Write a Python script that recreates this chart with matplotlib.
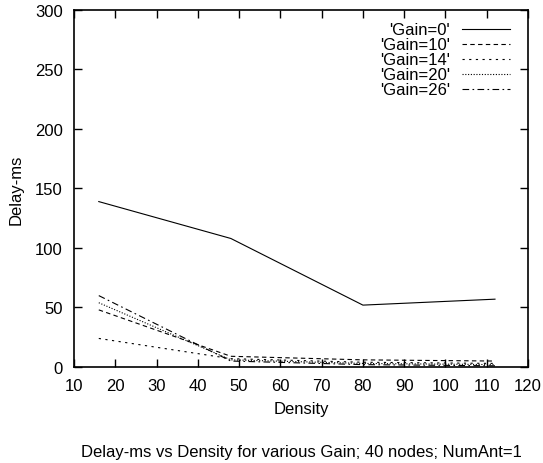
import matplotlib
matplotlib.use('Agg')
import matplotlib.pyplot as plt

plt.rcParams['font.family'] = ['Liberation Sans', 'DejaVu Sans']

density = [16, 48, 80, 112]
labels = ["'Gain=0'", "'Gain=10'", "'Gain=14'", "'Gain=20'", "'Gain=26'"]
gain_0 = [139, 108, 52, 57]
gain_10 = [48, 9, 6, 5]
gain_14 = [24, 7, 4, 3]
gain_20 = [54, 6, 3, 2]
gain_26 = [60, 5, 2, 1]
x_ticks = [10, 20, 30, 40, 50, 60, 70, 80, 90, 100, 110, 120]
y_ticks = [0, 50, 100, 150, 200, 250, 300]

series = [gain_0, gain_10, gain_14, gain_20, gain_26]
styles = ['-', (0, (4, 3)), (0, (2, 4)), (0, (1, 1.5)), (0, (6, 3, 1.5, 3))]

fig = plt.figure(figsize=(5.43, 4.64), dpi=100)
ax = fig.add_axes([0.1363, 0.2069, 0.8361, 0.7694])

for vals, ls, lab in zip(series, styles, labels):
    ax.plot(density, vals, color='black', linewidth=0.8, linestyle=ls, label=lab)

ax.set_xlim(10, 120)
ax.set_ylim(0, 300)
ax.set_xticks(x_ticks)
ax.set_yticks(y_ticks)
ax.tick_params(direction='in', length=6, width=1, labelsize=12, top=True, right=True, pad=8)
for s in ax.spines.values():
    s.set_linewidth(1.2)

ax.set_xlabel('Density', fontsize=12, labelpad=6)
ax.set_ylabel('Delay-ms', fontsize=12, labelpad=8)

leg = ax.legend(loc='upper right', bbox_to_anchor=(0.960, 0.965), frameon=False,
                markerfirst=False, fontsize=12, handlelength=2.9, handletextpad=0.7,
                labelspacing=0.0, borderaxespad=0, borderpad=0)

fig.text(0.555, 0.024, 'Delay-ms vs Density for various Gain; 40 nodes; NumAnt=1',
         ha='center', va='center', fontsize=12)

fig.savefig('out.png', dpi=100)
